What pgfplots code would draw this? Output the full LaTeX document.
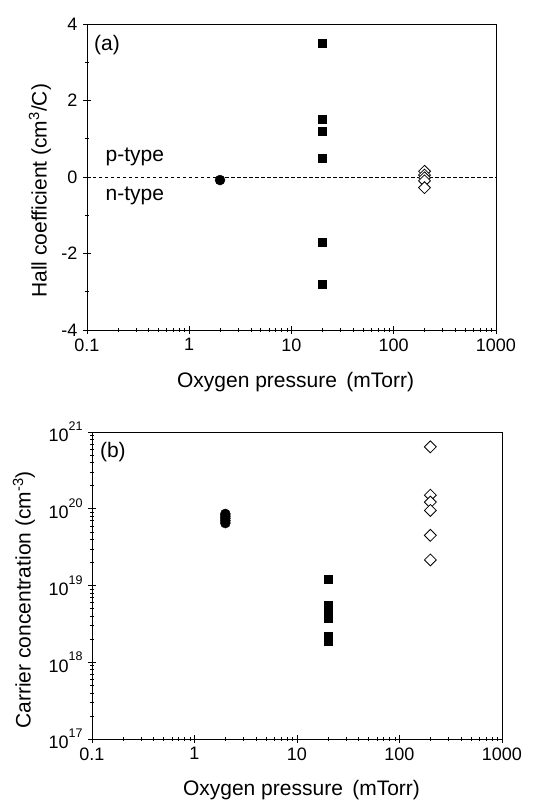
\documentclass[border=0pt]{standalone}
\usepackage{fontspec}
\setmainfont{Liberation Sans}
\usepackage{pgfplots}
\pgfplotsset{compat=1.18}
\newcommand{\tp}[1]{10\raisebox{0.62em}{\fontsize{12.5}{13}\selectfont #1}}
\pgfplotsset{
 myax/.style={
  scale only axis, anchor=south west,
  xmin=0.1, xmax=1000,
  xtick={0.1,1,10,100,1000}, xticklabels={0.1,1,10,100,1000},
  tick pos=left, tick align=center,
  major tick length=8pt, minor tick length=4pt,
  axis line style={line width=0.7pt},
  every tick/.style={black, line width=0.7pt},
  minor tick style={line width=0.5pt},
  tick label style={font=\fontsize{18}{20}\selectfont},
  yticklabel style={xshift=-2pt},
  xticklabel style={yshift=-1pt},
  xlabel={Oxygen pressure\ \,(mTorr)},
  clip=false,
 },
 sq/.style={only marks, mark=square*, mark size=4pt, mark options={fill=black, draw=black}},
 ci/.style={only marks, mark=*, mark size=5pt, mark options={fill=black, draw=black}},
 di/.style={only marks, mark=square*, mark size=4.2pt, mark options={rotate=45, fill=white, draw=black, line width=0.8pt}},
}
\begin{document}
\begin{tikzpicture}
\useasboundingbox (0pt,0pt) rectangle (535pt,803pt);
% (a)
\begin{axis}[xmode=log, myax, at={(87pt,473pt)}, width=409pt, height=306pt,
  ymin=-4, ymax=4, ytick={-4,-2,0,2,4}, yticklabels={-4,-2,0,2,4},
  minor y tick num=1,
  ylabel={Hall coefficient (cm\textsuperscript{3}/C)},
  every axis y label/.style={at={(axis description cs:-0.115,0.455)}, rotate=90, anchor=center, font=\fontsize{21}{24}\selectfont},
  every axis x label/.style={at={(axis description cs:0.51,-0.17)}, anchor=center, font=\fontsize{21}{24}\selectfont},
]
\addplot[black, line width=0.6pt, dash pattern=on 3.5pt off 2.5pt] coordinates {(0.1,0) (1000,0)};
\addplot[sq] coordinates {(20,3.5) (20,1.5) (20,1.2) (20,0.5) (20,-1.7) (20,-2.8)};
\addplot[ci] coordinates {(2,-0.08)};
\addplot[di] coordinates {(200,0.15) (200,0.05) (200,-0.02) (200,-0.1) (200,-0.28)};
\node[anchor=center, font=\fontsize{21}{24}\selectfont] at (axis description cs:0.049,0.931) {(a)};
\node[anchor=west, font=\fontsize{21}{24}\selectfont] at (axis description cs:0.037,0.567) {p-type};
\node[anchor=west, font=\fontsize{21}{24}\selectfont] at (axis description cs:0.037,0.438) {n-type};
\end{axis}
% (b)
\begin{axis}[xmode=log, ymode=log, myax, at={(92pt,64pt)}, width=410pt, height=307pt,
  ymin=1e17, ymax=1e21,
  ytick={1e17,1e18,1e19,1e20,1e21},
  yticklabels={\tp{17},\tp{18},\tp{19},\tp{20},\tp{21}},
  ylabel={Carrier concentration (cm\textsuperscript{-3})},
  every axis y label/.style={at={(axis description cs:-0.166,0.453)}, rotate=90, anchor=center, font=\fontsize{21}{24}\selectfont},
  every axis x label/.style={at={(axis description cs:0.511,-0.166)}, anchor=center, font=\fontsize{21}{24}\selectfont},
]
\addplot[ci] coordinates {(2,8.55e19) (2,8.0e19) (2,7.5e19) (2,7.0e19) (2,6.5e19)};
\addplot[sq] coordinates {(20,1.2e19) (20,5.5e18) (20,4.9e18) (20,4.3e18) (20,3.7e18) (20,2.2e18) (20,1.9e18)};
\addplot[di] coordinates {(200,6.4e20) (200,1.5e20) (200,1.22e20) (200,9.5e19) (200,4.5e19) (200,2.15e19)};
\node[anchor=center, font=\fontsize{21}{24}\selectfont] at (axis description cs:0.051,0.935) {(b)};
\end{axis}
\end{tikzpicture}
\end{document}
